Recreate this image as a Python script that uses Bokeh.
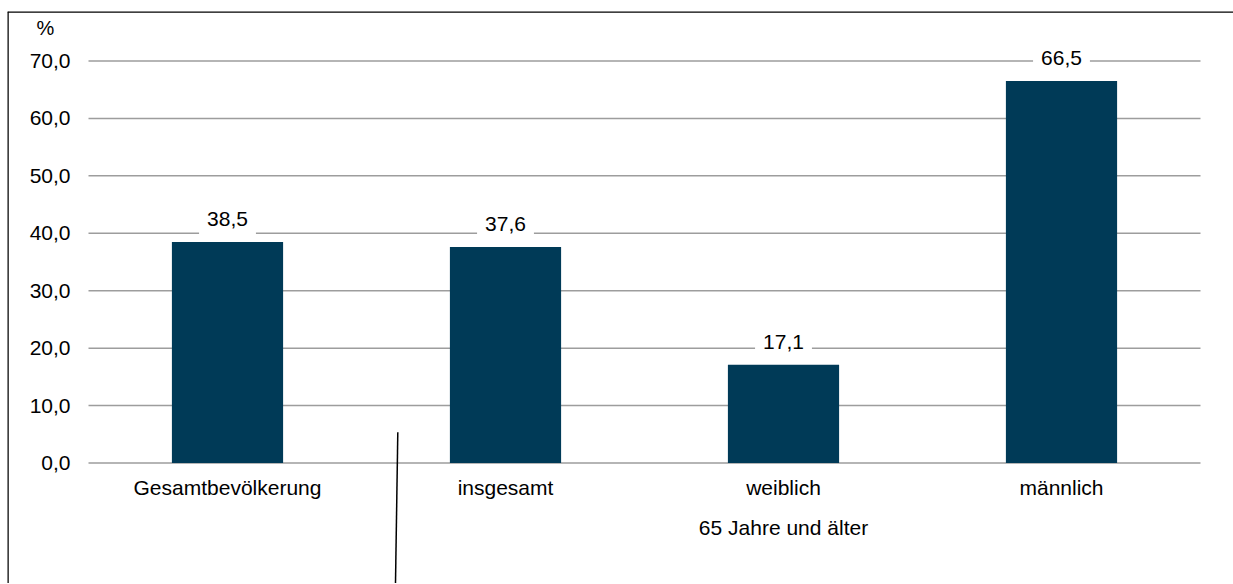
from bokeh.plotting import figure
from bokeh.models import Range1d, FixedTicker, ColumnDataSource, Span
from bokeh.core.properties import value
from bokeh.embed import file_html
from bokeh.resources import INLINE

# ---- data ----
categories = ["Gesamtbevölkerung", "insgesamt", "weiblich", "männlich"]
group_label = "65 Jahre und älter"
group_members = ["insgesamt", "weiblich", "männlich"]
values = [38.5, 37.6, 17.1, 66.5]
value_labels = ["38,5", "37,6", "17,1", "66,5"]
y_ticks = [0, 10, 20, 30, 40, 50, 60, 70]
y_tick_labels = ["0,0", "10,0", "20,0", "30,0", "40,0", "50,0", "60,0", "70,0"]
unit_label = "%"

FONT = "Liberation Sans"
FS = "21px"
BAR = "#003A57"
GRID = "#9d9d9d"

n = len(categories)
xs = [i + 0.5 for i in range(n)]
src = ColumnDataSource(dict(x=xs, top=values, lab=value_labels))

# geometry (pixels)
W, H = 1226, 572
LEFT = 81          # space for y tick labels
PX_PER_CAT = 278
PX_PER_UNIT = 5.743
ZERO_FROM_TOP = 451.5

x0, x1 = -LEFT / PX_PER_CAT, (W - LEFT) / PX_PER_CAT
y0, y1 = -(H - ZERO_FROM_TOP) / PX_PER_UNIT, ZERO_FROM_TOP / PX_PER_UNIT

p = figure(
    x_range=Range1d(x0, x1), y_range=Range1d(y0, y1),
    width=W, height=H,
    output_backend="svg", toolbar_location=None,
    min_border=0, min_border_left=0, min_border_right=0, min_border_top=0, min_border_bottom=0,
)
p.margin = (11, 0, 0, 7)
p.outline_line_color = None
p.background_fill_color = "white"
p.border_fill_color = "white"
p.xgrid.grid_line_color = None
p.ygrid.grid_line_color = None

# chart-area border (top and left edges)
p.add_layout(Span(location=y1, dimension="width", line_color="black", line_width=2.5))
p.add_layout(Span(location=x0, dimension="height", line_color="black", line_width=2.5))

# horizontal gridlines spanning the category area
p.segment(x0=[0] * len(y_ticks), x1=[n] * len(y_ticks), y0=y_ticks, y1=y_ticks,
          line_color=GRID, line_width=1.5)

p.vbar(x="x", top="top", width=0.4, source=src, color=BAR, line_color=None)

p.text(x="x", y="top", text="lab", source=src,
       text_font=value(FONT), text_font_size=FS, text_color="black",
       text_align="center", text_baseline="middle", y_offset=-23,
       background_fill_color="white", padding=8)

# axes fixed inside the frame
p.yaxis.fixed_location = 0
p.yaxis.ticker = FixedTicker(ticks=y_ticks)
p.yaxis.major_label_overrides = {t: l for t, l in zip(y_ticks, y_tick_labels)}
p.xaxis.fixed_location = 0
p.xaxis.ticker = FixedTicker(ticks=xs)
p.xaxis.major_label_overrides = {x: c for x, c in zip(xs, categories)}

for ax in (p.xaxis[0], p.yaxis[0]):
    ax.axis_line_color = None
    ax.major_tick_line_color = None
    ax.minor_tick_line_color = None
    ax.major_tick_out = 0
    ax.major_tick_in = 0
    ax.major_label_text_font = FONT
    ax.major_label_text_font_size = FS
    ax.major_label_text_color = "black"
p.yaxis.major_label_standoff = 18
p.xaxis.major_label_standoff = 13

# group label under the three "65 Jahre und älter" categories
gx = sum(xs[categories.index(c)] for c in group_members) / len(group_members)
p.text(x=[gx], y=[0], text=[group_label], text_font=value(FONT), text_font_size=FS,
       text_color="black", text_align="center", text_baseline="middle", y_offset=64)

# unit label "%"
p.text(x=[0], y=[y_ticks[-1]], text=[unit_label], text_font=value(FONT), text_font_size="20px",
       text_color="black", text_align="center", text_baseline="middle",
       x_offset=-43, y_offset=-33)

# thin black leader line
p.segment(x0=[1.1126], y0=[5.36], x1=[1.1043], y1=[y0], line_color="black", line_width=1.5)

open("out.html", "w").write(file_html(p, INLINE))
